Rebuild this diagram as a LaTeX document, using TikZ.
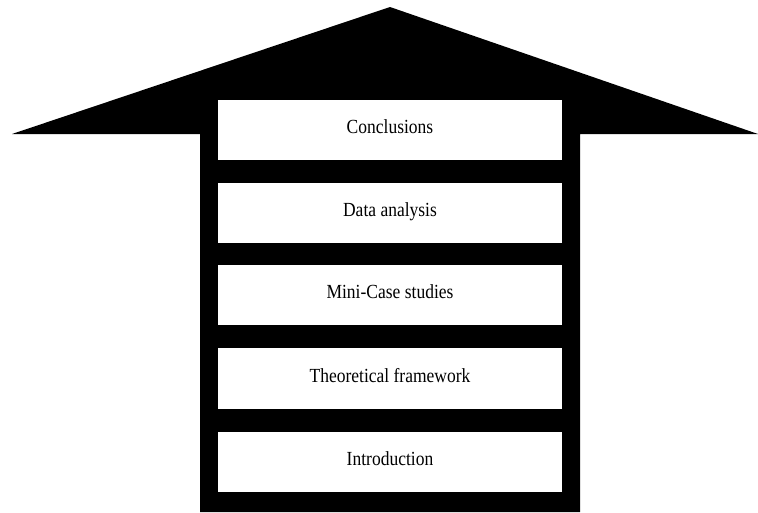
\documentclass[tikz,border=0pt]{standalone}
\usepackage{fontspec}
\setmainfont{Liberation Serif}
\begin{document}
\begin{tikzpicture}[x=1pt,y=-1pt,
  stage/.style={rectangle,fill=white,draw=none,inner sep=0pt,
    minimum width=344pt,minimum height=60pt,
    text height=33.5pt,text depth=26.5pt,
    font=\fontsize{20}{24}\selectfont},
  arrowbody/.style={fill=black,draw=none}]
\useasboundingbox (0,0) rectangle (758,512);
\fill[white] (0,0) rectangle (758,512);
\fill[arrowbody] (12,134) -- (390,7) -- (758,134) -- (580,134) -- (580,512) -- (200,512) -- (200,134) -- cycle;
\node[stage,minimum height=60pt] (c) at (390,130) {\scalebox{0.875}[1]{Conclusions}};
\node[stage] (d) at (390,213) {\scalebox{0.875}[1]{Data analysis}};
\node[stage] (m) at (390,295) {\scalebox{0.875}[1]{Mini-Case studies}};
\node[stage,minimum height=61pt,text height=34.5pt] (t) at (390,378.5) {\scalebox{0.875}[1]{Theoretical framework}};
\node[stage] (i) at (390,462) {\scalebox{0.875}[1]{Introduction}};
\end{tikzpicture}
\end{document}
